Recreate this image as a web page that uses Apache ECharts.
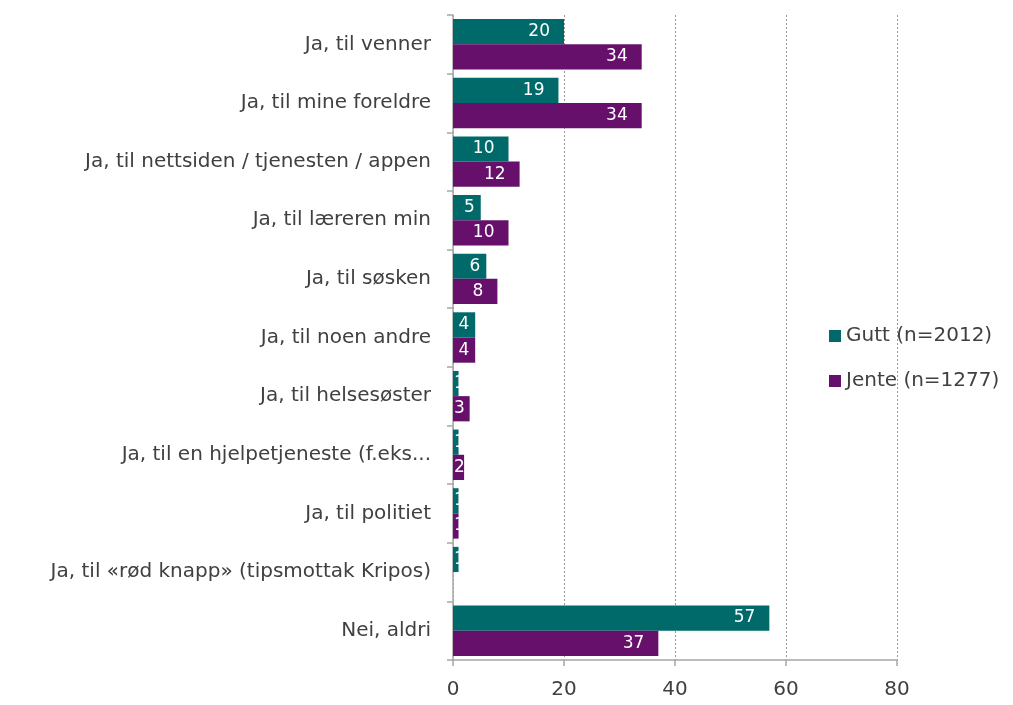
<!DOCTYPE html>
<html><head><meta charset="utf-8">
<script src="https://cdn.jsdelivr.net/npm/echarts@6/dist/echarts.min.js"></script>
<style>html,body{margin:0;padding:0;background:#fff}#c{width:1013px;height:705px}</style>
</head><body><div id="c"></div>
<script>
const categories = [
  "Ja, til venner",
  "Ja, til mine foreldre",
  "Ja, til nettsiden / tjenesten / appen",
  "Ja, til læreren min",
  "Ja, til søsken",
  "Ja, til noen andre",
  "Ja, til helsesøster",
  "Ja, til en hjelpetjeneste (f.eks...",
  "Ja, til politiet",
  "Ja, til «rød knapp» (tipsmottak Kripos)",
  "Nei, aldri"
];
const gutt = [20, 19, 10, 5, 6, 4, 1, 1, 1, 1, 57];
const jente = [34, 34, 12, 10, 8, 4, 3, 2, 1, 0, 37];
const xTicks = [0, 20, 40, 60, 80];
const seriesNames = ["Gutt (n=2012)", "Jente (n=1277)"];

const FONT = "DejaVu Sans";
const chart = echarts.init(document.getElementById('c'), null, {renderer: 'canvas'});

function items(vals) {
  return vals.map(v => {
    let label;
    if (v === 0) label = {show: false};
    else if (v < 4) label = {position: 'insideLeft', distance: 1};
    else if (v < 8) label = {position: 'insideRight', distance: 6};
    else label = {position: 'insideRight', distance: 14};
    return {value: v, label};
  });
}
const lbl = {show: true, color: '#fff', fontFamily: FONT, fontSize: 17};

chart.setOption({
  animation: false,
  textStyle: {fontFamily: FONT},
  grid: {left: 453, right: 116, top: 15, bottom: 45, containLabel: false},
  legend: {
    orient: 'vertical', left: 824, top: 321, itemWidth: 12, itemHeight: 12, itemGap: 25,
    icon: 'rect', textStyle: {fontFamily: FONT, fontSize: 20, color: '#404040'},
    data: seriesNames
  },
  xAxis: {
    type: 'value', min: 0, max: 80, interval: 20,
    axisLine: {show: true, lineStyle: {color: '#a6a6a6', width: 1.5}},
    axisTick: {show: true, length: 6, lineStyle: {color: '#a6a6a6', width: 1.5}},
    axisLabel: {color: '#404040', fontFamily: FONT, fontSize: 20, margin: 20, formatter: v => xTicks.includes(v) ? v : ''},
    splitLine: {show: true, lineStyle: {color: '#9a9a9a', type: [2, 2], width: 1}}
  },
  yAxis: {
    type: 'category', inverse: true, data: categories,
    axisLine: {show: true, lineStyle: {color: '#a6a6a6', width: 1.5}},
    axisTick: {show: true, length: 6, lineStyle: {color: '#a6a6a6', width: 1.5}},
    axisLabel: {color: '#404040', fontFamily: FONT, fontSize: 20, margin: 22}
  },
  series: [
    {name: seriesNames[0], type: 'bar', data: items(gutt), itemStyle: {color: '#006a6a'},
     barGap: '0%', barCategoryGap: '14%', label: lbl},
    {name: seriesNames[1], type: 'bar', data: items(jente), itemStyle: {color: '#66106b'},
     barGap: '0%', barCategoryGap: '14%', label: lbl}
  ]
});
</script></body></html>
